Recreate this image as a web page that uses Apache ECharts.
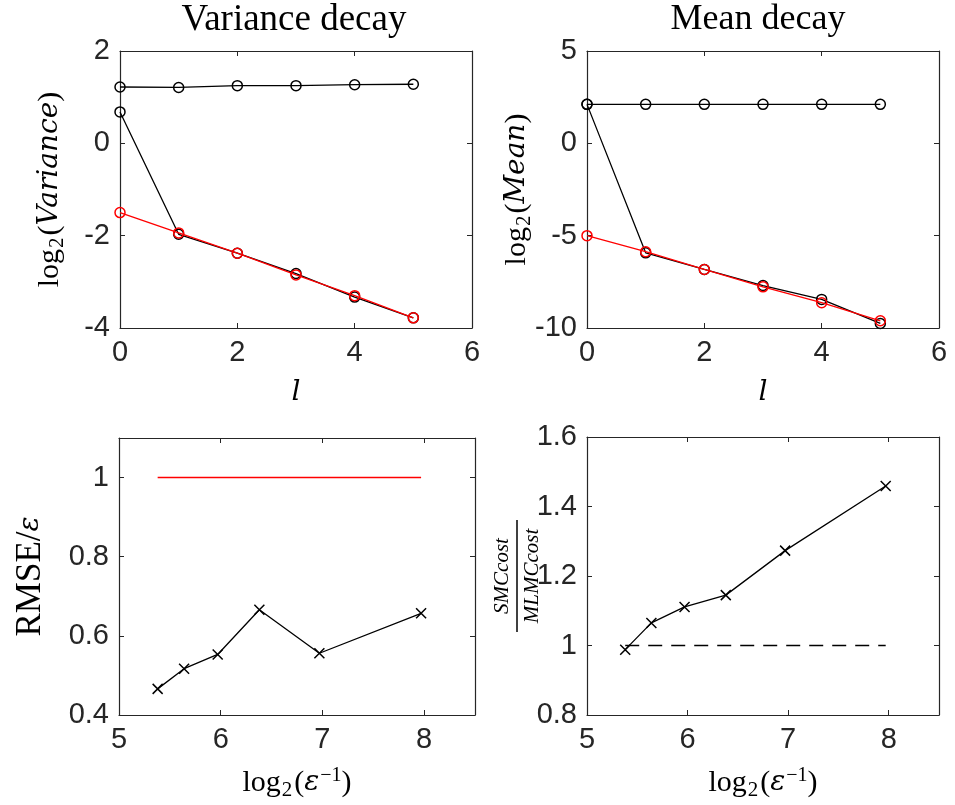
<!DOCTYPE html>
<html>
<head>
<meta charset="utf-8">
<script src="https://cdn.jsdelivr.net/npm/echarts@6/dist/echarts.min.js"></script>
<style>html,body{margin:0;padding:0;background:#fff;}#c{width:955px;height:805px;}</style>
</head>
<body>
<div id="c"></div>
<script>
// ---- data ----
const levels = [0, 1, 2, 3, 4, 5];
const varLevel = [1.22, 1.21, 1.25, 1.25, 1.27, 1.28];
const varDiff = [0.68, -1.97, -2.38, -2.82, -3.33, -3.78];
const varFit = [-1.50, -1.94, -2.38, -2.85, -3.30, -3.78];
const meanLevel = [2.11, 2.11, 2.11, 2.11, 2.11, 2.11];
const meanDiff = [2.11, -5.93, -6.83, -7.70, -8.45, -9.75];
const meanFit = [-5.00, -5.87, -6.83, -7.77, -8.63, -9.61];
const logInvEps = [5.38, 5.64, 5.97, 6.38, 6.97, 7.97];
const rmseRatio = [0.466, 0.517, 0.553, 0.666, 0.556, 0.657];
const rmseTarget = [1, 1, 1, 1, 1, 1];
const costRatio = [0.988, 1.065, 1.111, 1.145, 1.273, 1.459];
const costRef = [1, 1, 1, 1, 1, 1];
const titles = ['Variance decay', 'Mean decay'];

const AX = '#262626';
const SANS = 'Liberation Sans';
const SERIF = 'Liberation Serif';
const ITAL = 'DejaVu Serif';
const zip = (a, b) => a.map((v, i) => [v, b[i]]);

const richBase = {
  a: {fontFamily: SERIF, fontSize: 30, color: '#000', lineHeight: 36},
  b: {fontFamily: SERIF, fontSize: 35, color: '#000', lineHeight: 38},
  i: {fontFamily: ITAL, fontStyle: 'italic', fontSize: 28, color: '#000', lineHeight: 36},
  s: {fontFamily: SERIF, fontSize: 21, color: '#000', lineHeight: 21, padding: [14, 2, 0, 1]},
  p: {fontFamily: SERIF, fontSize: 20, color: '#000', lineHeight: 20, padding: [0, 0, 14, 1]},
  n: {fontFamily: SERIF, fontStyle: 'italic', fontSize: 21, color: '#000', lineHeight: 22},
  bar: {width: 112, height: 1.5, backgroundColor: '#000', lineHeight: 8}
};

function fmtHide(extra) {
  return function (v) {
    if (extra.some(e => Math.abs(v - e) < 1e-9)) return '';
    return String(Math.round(v * 1000) / 1000);
  };
}

const grids = [
  {left: 120, top: 51, width: 352, height: 277},
  {left: 587, top: 51, width: 352, height: 277},
  {left: 119, top: 438, width: 356, height: 277},
  {left: 587, top: 437, width: 352, height: 278}
].map(g => Object.assign({outerBoundsMode: 'none', containLabel: false}, g));

const xSpec = [
  {min: 0, max: 6, interval: 2, hide: [], name: '{i|l}', gap: 47},
  {min: 0, max: 6, interval: 2, hide: [], name: '{i|l}', gap: 47},
  {min: 5, max: 8.5, interval: 1, hide: [8.5], name: '{a|log}{s|2}{a|(}{i|ε}{p|−1}{a|)}', gap: 50},
  {min: 5, max: 8.5, interval: 1, hide: [8.5], name: '{a|log}{s|2}{a|(}{i|ε}{p|−1}{a|)}', gap: 50}
];
const ySpec = [
  {min: -4, max: 2, interval: 2, hide: [], name: '{a|log}{s|2}{a|(}{i|Variance}{a|)}', gap: 52},
  {min: -10, max: 5, interval: 5, hide: [], name: '{a|log}{s|2}{a|(}{i|Mean}{a|)}', gap: 52},
  {min: 0.4, max: 1.1, interval: 0.2, hide: [1.1], name: '{b|RMSE/}{i|ε}', gap: 69},
  {min: 0.8, max: 1.6, interval: 0.2, hide: [], name: '{n|SMCcost}\n{bar|}\n{n|MLMCcost}', gap: 44}
];

const xAxes = [], yAxes = [];
xSpec.forEach((s, i) => {
  const common = {
    type: 'value', gridIndex: i, min: s.min, max: s.max, interval: s.interval,
    splitLine: {show: false},
    axisLine: {show: true, onZero: false, lineStyle: {color: AX, width: 1.2}},
    axisTick: {show: true, inside: true, length: 5, lineStyle: {color: AX, width: 1}}
  };
  xAxes.push(Object.assign({}, common, {
    position: 'bottom',
    axisLabel: {show: true, fontFamily: SANS, fontSize: 29, color: AX, margin: 10, formatter: fmtHide(s.hide)},
    name: s.name, nameLocation: 'middle', nameGap: s.gap, nameMoveOverlap: false,
    nameTextStyle: {rich: richBase}
  }));
  xAxes.push(Object.assign({}, common, {position: 'top', axisLabel: {show: false}}));
});
ySpec.forEach((s, i) => {
  const common = {
    type: 'value', gridIndex: i, min: s.min, max: s.max, interval: s.interval,
    splitLine: {show: false},
    axisLine: {show: true, onZero: false, lineStyle: {color: AX, width: 1.2}},
    axisTick: {show: true, inside: true, length: 5, lineStyle: {color: AX, width: 1}}
  };
  yAxes.push(Object.assign({}, common, {
    position: 'left',
    axisLabel: {show: true, fontFamily: SANS, fontSize: 29, color: AX, margin: 10, formatter: fmtHide(s.hide)},
    name: s.name, nameLocation: 'middle', nameGap: s.gap, nameRotate: 90, nameMoveOverlap: false,
    nameTextStyle: {rich: richBase, align: 'center'}
  }));
  yAxes.push(Object.assign({}, common, {position: 'right', axisLabel: {show: false}}));
});

function circ(grid, data, color) {
  return {
    type: 'line', xAxisIndex: grid * 2, yAxisIndex: grid * 2, data: data,
    symbol: 'circle', symbolSize: 10, showSymbol: true, animation: false, silent: true,
    lineStyle: {color: color, width: 1.3},
    itemStyle: {color: 'rgba(0,0,0,0)', borderColor: color, borderWidth: 1.5},
    z: color === '#ff0000' ? 3 : 2
  };
}
const CROSS = 'path://M0,0L10,10M10,0L0,10';
function cross(grid, data) {
  return {
    type: 'line', xAxisIndex: grid * 2, yAxisIndex: grid * 2, data: data,
    symbol: CROSS, symbolSize: 10, showSymbol: true, animation: false, silent: true,
    lineStyle: {color: '#000', width: 1.3},
    itemStyle: {color: 'rgba(0,0,0,0)', borderColor: '#000', borderWidth: 1.5}
  };
}
function plain(grid, data, color, type) {
  return {
    type: 'line', xAxisIndex: grid * 2, yAxisIndex: grid * 2, data: data,
    symbol: 'none', animation: false, silent: true,
    lineStyle: {color: color, width: 1.4, type: type || 'solid'}
  };
}

const series = [
  circ(0, zip(levels, varLevel), '#000'),
  circ(0, zip(levels, varDiff), '#000'),
  circ(0, zip(levels, varFit), '#ff0000'),
  circ(1, zip(levels, meanLevel), '#000'),
  circ(1, zip(levels, meanDiff), '#000'),
  circ(1, zip(levels, meanFit), '#ff0000'),
  plain(2, zip(logInvEps, rmseTarget), '#ff0000'),
  cross(2, zip(logInvEps, rmseRatio)),
  plain(3, zip(logInvEps, costRef), '#000', [14, 9]),
  cross(3, zip(logInvEps, costRatio))
];

const graphic = [
  {type: 'text', x: 294, y: 20, style: {text: titles[0], font: '37px "Liberation Serif"', fill: '#000', textAlign: 'center', textVerticalAlign: 'middle'}},
  {type: 'text', x: 758, y: 20, style: {text: titles[1], font: '36px "Liberation Serif"', fill: '#000', textAlign: 'center', textVerticalAlign: 'middle'}}
];

const chart = echarts.init(document.getElementById('c'), null, {renderer: 'canvas'});
chart.setOption({
  backgroundColor: '#fff',
  animation: false,
  grid: grids,
  xAxis: xAxes,
  yAxis: yAxes,
  series: series,
  graphic: graphic
});
</script>
</body>
</html>
